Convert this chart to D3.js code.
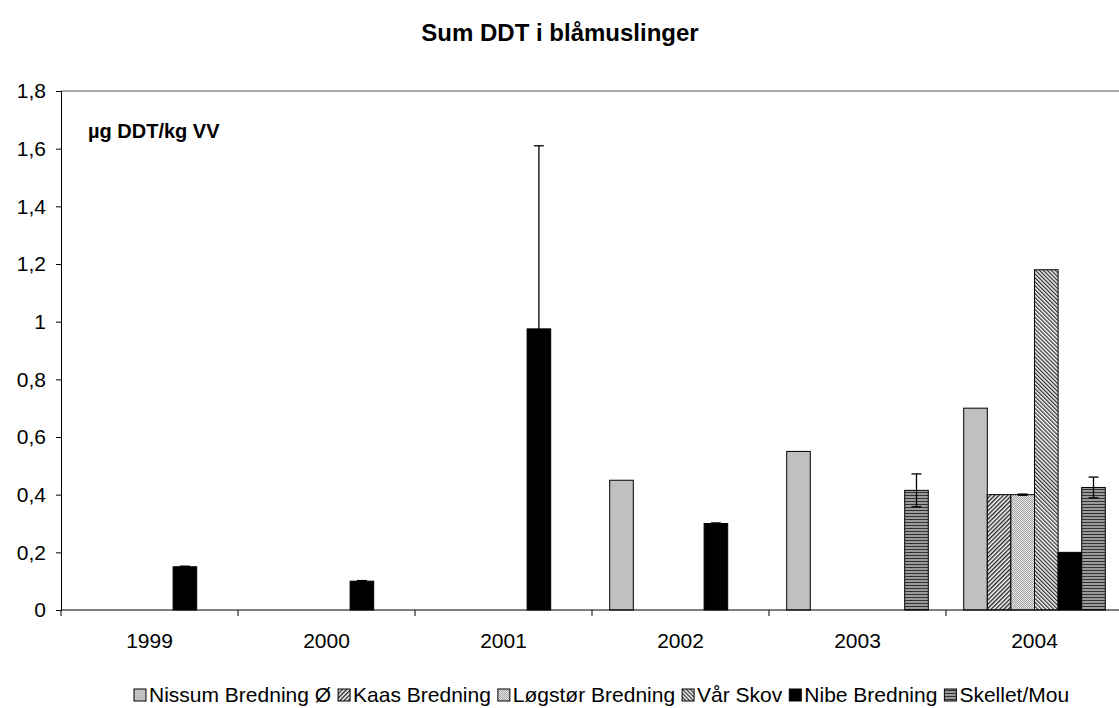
<!DOCTYPE html>
<html lang="da">
<head>
<meta charset="UTF-8">
<title>Sum DDT i blåmuslinger</title>
<style>
  body { margin: 0; background: #fff; }
  svg text { font-family: "Liberation Sans", Arial, sans-serif; fill: #000; }
</style>
</head>
<body>
<div id="chart"></div>
<script src="https://d3js.org/d3.v7.min.js"></script>
<script>
// categories and series
const years = ["1999", "2000", "2001", "2002", "2003", "2004"];
const seriesNames = ["Nissum Bredning Ø", "Kaas Bredning", "Løgstør Bredning", "Vår Skov", "Nibe Bredning", "Skellet/Mou"];

// values per series (null = no sample)
const nissum  = [null, null, null, 0.45, 0.55, 0.70];
const kaas    = [null, null, null, null, null, 0.40];
const logstor = [null, null, null, null, null, 0.40];
const varSkov = [null, null, null, null, null, 1.18];
const nibe    = [0.15, 0.10, 0.975, 0.30, null, 0.20];
const skellet = [null, null, null, null, 0.415, 0.425];

// error bars (± value), null = none
const nissumErr  = [null, null, null, null, null, null];
const kaasErr    = [null, null, null, null, null, null];
const logstorErr = [null, null, null, null, null, 0.002];
const varSkovErr = [null, null, null, null, null, null];
const nibeErr    = [0.002, 0.002, 0.635, 0.002, null, null];
const skelletErr = [null, null, null, null, 0.057, 0.036];

const yTicks = [0, 0.2, 0.4, 0.6, 0.8, 1, 1.2, 1.4, 1.6, 1.8];

const allValues = [nissum, kaas, logstor, varSkov, nibe, skellet];
const allErrors = [nissumErr, kaasErr, logstorErr, varSkovErr, nibeErr, skelletErr];
const fills = ["#c0c0c0", "url(#pKaas)", "url(#pLogstor)", "url(#pVar)", "#000000", "url(#pSkellet)"];

const W = 1119, H = 708;
const plotLeft = 61, plotTop = 91, plotBottom = 610;
const catW = 177;

const svg = d3.select("#chart").append("svg")
    .attr("width", W).attr("height", H);

// patterns
const defs = svg.append("defs");
let p = defs.append("pattern").attr("id", "pKaas").attr("patternUnits", "userSpaceOnUse")
    .attr("width", 3).attr("height", 3).attr("patternTransform", "rotate(45)");
p.append("rect").attr("width", 3).attr("height", 3).attr("fill", "#fff");
p.append("rect").attr("width", 1.4).attr("height", 3).attr("fill", "#222");

p = defs.append("pattern").attr("id", "pVar").attr("patternUnits", "userSpaceOnUse")
    .attr("width", 2.8).attr("height", 2.8).attr("patternTransform", "rotate(-45)");
p.append("rect").attr("width", 2.8).attr("height", 2.8).attr("fill", "#fff");
p.append("rect").attr("width", 1.3).attr("height", 2.8).attr("fill", "#333");

p = defs.append("pattern").attr("id", "pLogstor").attr("patternUnits", "userSpaceOnUse")
    .attr("width", 2).attr("height", 2);
p.append("rect").attr("width", 2).attr("height", 2).attr("fill", "#e4e4e4");
p.append("rect").attr("width", 1).attr("height", 1).attr("fill", "#a8a8a8");
p.append("rect").attr("x", 1).attr("y", 1).attr("width", 1).attr("height", 1).attr("fill", "#a8a8a8");

p = defs.append("pattern").attr("id", "pSkellet").attr("patternUnits", "userSpaceOnUse")
    .attr("width", 3).attr("height", 3);
p.append("rect").attr("width", 3).attr("height", 3).attr("fill", "#9a9a9a");
p.append("rect").attr("width", 3).attr("height", 1).attr("fill", "#333");

// scales
const x = d3.scaleBand().domain(years).range([plotLeft, plotLeft + catW * years.length]).padding(0);
const xs = d3.scaleBand().domain(d3.range(seriesNames.length))
    .range([0, x.bandwidth()]).paddingInner(0).paddingOuter(0.75);
const y = d3.scaleLinear().domain([0, 1.8]).range([plotBottom, plotTop]);

// title
svg.append("text").attr("x", 560).attr("y", 41).attr("text-anchor", "middle")
    .style("font-size", "24px").style("font-weight", "bold")
    .text("Sum DDT i blåmuslinger");

// top frame line
svg.append("line").attr("x1", plotLeft).attr("x2", W).attr("y1", y(1.8)).attr("y2", y(1.8))
    .attr("stroke", "#555").attr("stroke-width", 1);

// bars
seriesNames.forEach((name, i) => {
  const rows = years.map((yr, j) => ({ yr, v: allValues[i][j], e: allErrors[i][j] }))
      .filter(d => d.v !== null);
  svg.append("g").selectAll("rect").data(rows).join("rect")
      .attr("x", d => x(d.yr) + xs(i))
      .attr("y", d => y(d.v))
      .attr("width", xs.bandwidth())
      .attr("height", d => y(0) - y(d.v))
      .attr("fill", fills[i])
      .attr("stroke", "#000").attr("stroke-width", 1);
});

// error bars
seriesNames.forEach((name, i) => {
  const rows = years.map((yr, j) => ({ yr, v: allValues[i][j], e: allErrors[i][j] }))
      .filter(d => d.v !== null && d.e !== null);
  const g = svg.append("g").attr("stroke", "#000").attr("stroke-width", 1.3);
  rows.forEach(d => {
    const cx = x(d.yr) + xs(i) + xs.bandwidth() / 2;
    const y1 = y(d.v + d.e), y2 = y(d.v - d.e);
    g.append("line").attr("x1", cx).attr("x2", cx).attr("y1", y1).attr("y2", y2);
    g.append("line").attr("x1", cx - 5).attr("x2", cx + 5).attr("y1", y1).attr("y2", y1);
    g.append("line").attr("x1", cx - 5).attr("x2", cx + 5).attr("y1", y2).attr("y2", y2);
  });
});

// y axis
const yAxis = svg.append("g").attr("transform", `translate(${plotLeft},0)`)
    .call(d3.axisLeft(y).tickValues(yTicks).tickSize(5).tickPadding(10)
      .tickFormat(d => String(d).replace(".", ",")));
yAxis.select(".domain").attr("stroke", "#000");
yAxis.selectAll("text").style("font-size", "21px").style("font-family", "Liberation Sans, Arial, sans-serif");

// x axis with ticks at category boundaries
svg.append("line").attr("x1", plotLeft).attr("x2", W).attr("y1", plotBottom).attr("y2", plotBottom)
    .attr("stroke", "#000");
const xAxis = svg.append("g").attr("transform", `translate(0,${plotBottom})`)
    .call(d3.axisBottom(x).tickSize(0).tickPadding(23));
xAxis.select(".domain").remove();
xAxis.selectAll("text").style("font-size", "21px").style("font-family", "Liberation Sans, Arial, sans-serif");
svg.append("g").selectAll("line").data(years).join("line")
    .attr("x1", d => x(d)).attr("x2", d => x(d))
    .attr("y1", plotBottom).attr("y2", plotBottom + 6)
    .attr("stroke", "#000");

// unit label
svg.append("text").attr("x", 88).attr("y", 138)
    .style("font-size", "20px").style("font-weight", "bold")
    .text("µg DDT/kg VV");

// legend
const legend = svg.append("g");
let lx = 134;
seriesNames.forEach((name, i) => {
  legend.append("rect").attr("x", lx).attr("y", 689).attr("width", 12).attr("height", 12)
      .attr("fill", fills[i]).attr("stroke", "#000").attr("stroke-width", 1);
  const t = legend.append("text").attr("x", lx + 15).attr("y", 702)
      .style("font-size", "21px").text(name);
  lx += 15 + t.node().getComputedTextLength() + 7;
});
</script>
</body>
</html>
